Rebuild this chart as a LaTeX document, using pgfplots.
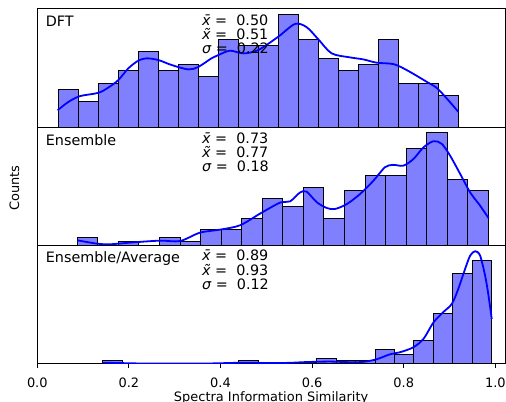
\documentclass[border=0pt]{standalone}
\usepackage{fontspec}
\setmainfont{DejaVu Sans}
\usepackage{pgfplots}
\pgfplotsset{compat=1.18}
\definecolor{barfill}{RGB}{128,128,255}

\pgfplotsset{
  panel/.style={
    scale only axis, width=467.7bp, height=118.3bp,
    xmin=0, xmax=1.021, ymin=0,
    axis line style={black, line width=0.96bp},
    xtick=\empty, ytick=\empty,
    anchor=north west,
  },
  hist/.style={ybar interval, fill=barfill, draw=black, line width=1bp},
  kde/.style={blue, line width=1.8bp, smooth, no markers},
}
\tikzset{lbl/.style={anchor=base west, inner sep=0pt, font=\fontsize{14.4}{16}\selectfont}}

\begin{document}
\begin{tikzpicture}

% DFT
\begin{axis}[panel, at={(37.3bp,-8.7bp)}, ymax=18.9]
\addplot[hist] coordinates {
(0.0452,6)(0.0889,4)(0.1326,7)(0.1763,9)(0.2200,12)(0.2637,9)(0.3074,10)
(0.3511,8)(0.3948,14)(0.4385,13)(0.4822,13)(0.5259,18)(0.5696,14)(0.6133,11)
(0.6570,9)(0.7007,10)(0.7444,14)(0.7881,7)(0.8318,7)(0.8755,5)(0.9192,5)};
\addplot[kde] coordinates {
(0.0445,2.68)(0.0677,4.0)(0.0932,4.93)(0.1332,5.46)(0.155,6.3)(0.1769,7.5)
(0.1987,9.37)(0.2205,10.6)(0.2389,10.97)(0.2642,10.7)(0.2934,9.9)(0.3297,9.2)
(0.3515,9.6)(0.3808,11.0)(0.3953,11.5)(0.4207,12.19)(0.4499,11.76)(0.4826,12.3)
(0.5263,14.44)(0.5627,16.47)(0.5881,15.94)(0.6136,14.0)(0.6427,11.76)(0.6828,11.12)
(0.7119,10.8)(0.7410,10.27)(0.7774,10.05)(0.8065,9.09)(0.8501,7.22)(0.8756,6.0)
(0.9193,2.41)};
\node[lbl, yshift=-17.5bp] at (rel axis cs:0.018,1) {DFT};
\node[lbl, yshift=-16.8bp] at (rel axis cs:0.352,1) {{\itshape\={x}} = \ 0.50};
\node[lbl, yshift=-30.6bp] at (rel axis cs:0.352,1) {{\itshape\~{x}} = \ 0.51};
\node[lbl, yshift=-44.6bp] at (rel axis cs:0.352,1) {{\itshape σ} = \ 0.22};
\end{axis}

% Ensemble
\begin{axis}[panel, at={(37.3bp,-127bp)}, ymax=30.45]
\addplot[hist] coordinates {
(0.0874,2)(0.1323,0)(0.1771,1)(0.2220,0)(0.2669,2)(0.3117,1)(0.3566,4)
(0.4015,4)(0.4463,7)(0.4912,12)(0.5361,10)(0.5809,15)(0.6258,7)(0.6707,14)
(0.7155,18)(0.7604,18)(0.8053,25)(0.8501,29)(0.8950,17)(0.9398,14)(0.9847,14)};
\addplot[kde] coordinates {
(0.0874,1.29)(0.1296,0.43)(0.1587,0.26)(0.2024,0.69)(0.2679,1.2)(0.3116,1.1)
(0.3552,3.26)(0.3989,4.03)(0.4426,5.15)(0.4862,8.15)(0.5299,10.98)(0.5518,11.3)
(0.5736,13.6)(0.588,13.8)(0.610,11.1)(0.632,9.6)(0.650,9.35)(0.6755,10.6)
(0.7046,13.2)(0.7336,16.6)(0.759,20.1)(0.777,20.7)(0.799,20.5)(0.821,22.2)
(0.843,25.2)(0.865,26.8)(0.883,26.1)(0.901,23.1)(0.923,18.4)(0.945,13.6)
(0.9666,10.2)(0.985,7.0)};
\node[lbl, yshift=-18bp] at (rel axis cs:0.018,1) {Ensemble};
\node[lbl, yshift=-16.3bp] at (rel axis cs:0.352,1) {{\itshape\={x}} = \ 0.73};
\node[lbl, yshift=-30.3bp] at (rel axis cs:0.352,1) {{\itshape\~{x}} = \ 0.77};
\node[lbl, yshift=-44bp] at (rel axis cs:0.352,1) {{\itshape σ} = \ 0.18};
\end{axis}

% Ensemble/Average
\begin{axis}[panel, at={(37.3bp,-245.3bp)}, ymax=76,
  xtick={0,0.2,0.4,0.6,0.8,1.0}, xtick pos=bottom, tick align=outside,
  major tick length=4.2bp, tick style={black, line width=0.96bp},
  /pgf/number format/assume math mode=true,
  xticklabel style={font=\fontsize{13}{15}\selectfont, anchor=base, yshift=-19.8bp,
    /pgf/number format/.cd, fixed, fixed zerofill, precision=1},
  xlabel={Spectra Information Similarity},
  xlabel style={font=\fontsize{13}{15}\selectfont, at={(axis description cs:0.5,0)},
    anchor=base, yshift=-37.6bp, inner sep=0pt},
]
\addplot[hist] coordinates {
(0.1427,2)(0.1852,0)(0.2276,0)(0.2701,0)(0.3126,0)(0.3550,0)(0.3975,0)
(0.4400,2)(0.4824,0)(0.5249,1)(0.5674,1)(0.6098,3)(0.6523,2)(0.6948,2)
(0.7372,9)(0.7797,6)(0.8222,15)(0.8646,32)(0.9071,58)(0.9496,66)(0.9920,66)};
\addplot[kde] coordinates {
(0.1427,0.6)(0.1732,0.4)(0.2241,0.1)(0.3114,0.05)(0.3769,0.1)(0.4352,0.5)
(0.4643,0.6)(0.508,0.3)(0.5516,0.5)(0.588,1.0)(0.6389,1.3)(0.6826,0.9)
(0.7118,1.1)(0.7409,2.8)(0.7701,6.0)(0.792,7.3)(0.821,10.5)(0.843,15.9)
(0.865,26.5)(0.886,33)(0.905,38.4)(0.919,48)(0.934,60.9)(0.945,69.4)
(0.956,72.2)(0.9666,69.4)(0.9775,56.6)(0.985,43.7)(0.992,28.7)};
\node[lbl, yshift=-17.4bp] at (rel axis cs:0.018,1) {Ensemble/Average};
\node[lbl, yshift=-15.4bp] at (rel axis cs:0.352,1) {{\itshape\={x}} = \ 0.89};
\node[lbl, yshift=-30.4bp] at (rel axis cs:0.352,1) {{\itshape\~{x}} = \ 0.93};
\node[lbl, yshift=-44bp] at (rel axis cs:0.352,1) {{\itshape σ} = \ 0.12};
\end{axis}

\node[rotate=90, font=\fontsize{13}{15}\selectfont] at (14.5bp,-188bp) {Counts};

\pgfresetboundingbox
\useasboundingbox (0,0) rectangle (506bp,-402bp);
\end{tikzpicture}
\end{document}
